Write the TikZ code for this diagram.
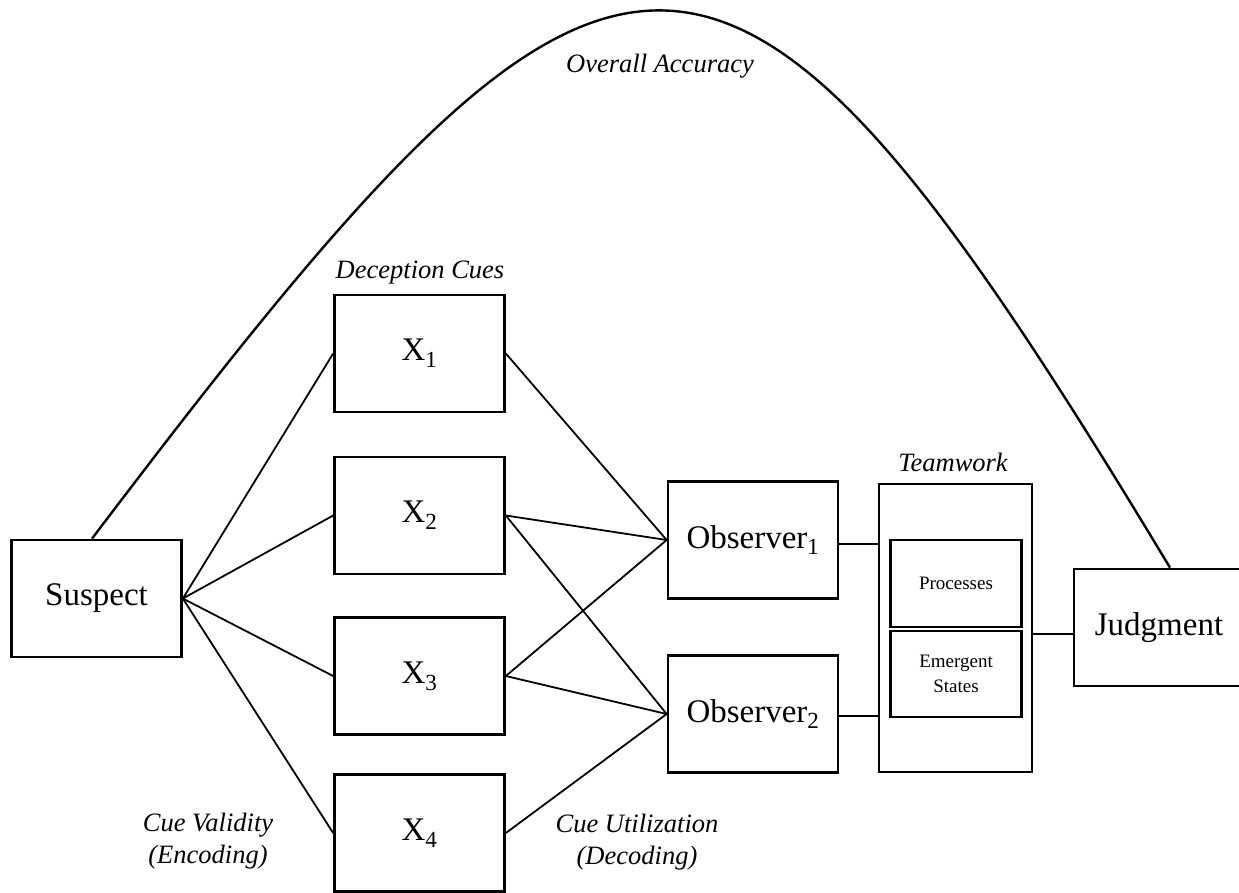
\documentclass[tikz,border=0pt]{standalone}
\usepackage{fontspec}
\setmainfont{Liberation Serif}
\usetikzlibrary{calc}

\begin{document}
\begin{tikzpicture}[
	x=1pt, y=-1pt,
	every node/.style={inner sep=0pt},
	cuebox/.style={
		draw,
		line width=2.7pt,
		minimum width=170pt,
		minimum height=117pt,
		font=\fontsize{33}{40}\selectfont
	},
	teambox/.style={
		draw,
		line width=2.7pt,
		minimum width=131pt,
		minimum height=87pt,
		align=center,
		font=\fontsize{19}{25}\selectfont
	},
	caption/.style={
		align=center,
		font=\fontsize{26.5}{32}\selectfont\itshape
	},
	link/.style={draw, line width=1.8pt}
]
\useasboundingbox (0,0) rectangle (1239,892);

\node[cuebox] (suspect) at (96.5,598.5) {Suspect};
\node[cuebox] (x1) at (419.5,353.5) {X\textsubscript{1}};
\node[cuebox] (x2) at (419.5,515.5) {X\textsubscript{2}};
\node[cuebox] (x3) at (419.5,676) {X\textsubscript{3}};
\node[cuebox] (x4) at (419.5,833) {X\textsubscript{4}};
\node[cuebox] (obs1) at (753,540) {Observer\textsubscript{1}};
\node[cuebox] (obs2) at (753,714) {Observer\textsubscript{2}};
\node[draw, line width=2.7pt, minimum width=153pt, minimum height=288pt] (team) at (955.5,628) {};
\node[teambox] (proc) at (956,583.5) {Processes};
\node[teambox, minimum height=86pt] (emerg) at (956,674) {Emergent\\States};
\node[cuebox] (judg) at (1159,627.5) {Judgment};

\node[caption, anchor=base] (deccues) at (420,278) {Deception Cues};
\node[caption, anchor=base] (teamlbl) at (953,471) {Teamwork};
\node[caption, anchor=base] (overall) at (660,72) {Overall Accuracy};
\node[caption] (validity) at (208,841) {Cue Validity\\(Encoding)};
\node[caption] (utiliz) at (637,842.5) {Cue Utilization\\(Decoding)};

\foreach \x in {x1,x2,x3,x4}
	\path[link] (suspect.east) -- (\x.west);
\path[link] (x1.east) -- (obs1.west);
\path[link] (x2.east) -- (obs1.west);
\path[link] (x2.east) -- (obs2.west);
\path[link] (x3.east) -- (obs1.west);
\path[link] (x3.east) -- (obs2.west);
\path[link] (x4.east) -- (obs2.west);
\path[link] ([yshift=-4pt]obs1.east) -- ([yshift=-4pt]obs1.east -| team.west);
\path[link] ([yshift=-2pt]obs2.east) -- ([yshift=-2pt]obs2.east -| team.west);
\path[link] ([yshift=-6pt]team.east) -- ([yshift=-6pt]team.east -| judg.west);

\draw[line width=2.4pt] ([xshift=-4.5pt]suspect.north) .. controls (621,-160) and (719,-181) .. ([xshift=11pt]judg.north);
\end{tikzpicture}
\end{document}
